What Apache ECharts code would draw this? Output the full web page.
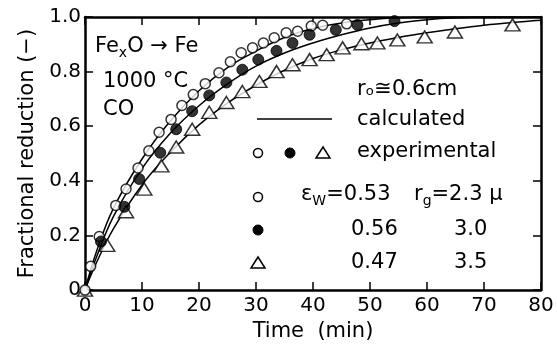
<!DOCTYPE html>
<html><head><meta charset="utf-8">
<script src="https://cdn.jsdelivr.net/npm/echarts@6/dist/echarts.min.js"></script>
<style>html,body{margin:0;padding:0;background:#fff}#c{width:557px;height:347px}</style>
</head><body><div id="c"></div>
<script>
// x tick labels and y tick labels
var xTicks = [0,10,20,30,40,50,60,70,80];
var yTickLabels = {0:'0',0.2:'0.2',0.4:'0.4',0.6:'0.6',0.8:'0.8',1:'1.0'};

// experimental: open circles (eps=0.53)
var openT = [0,1,2.5,5.4,7.2,9.3,11.2,13,15.1,17,19,21.1,23.5,25.5,27.4,29.4,31.3,33.2,35.3,37.3,39.7,41.7,45.9];
var openY = [0,0.087,0.196,0.31,0.37,0.447,0.51,0.578,0.625,0.676,0.716,0.756,0.796,0.836,0.869,0.887,0.905,0.924,0.942,0.948,0.967,0.97,0.975];
// filled circles (eps=0.56)
var fillT = [2.8,6.9,9.5,13.2,16,18.8,21.8,24.8,27.6,30.4,33.6,36.4,39.4,44,47.8,54.3];
var fillY = [0.178,0.305,0.407,0.503,0.589,0.655,0.713,0.76,0.807,0.844,0.876,0.905,0.935,0.953,0.971,0.985];
// triangles (eps=0.47)
var triT = [0,3.9,7.2,10.4,13.4,16,18.8,21.8,24.8,27.6,30.6,33.6,36.4,39.4,42.4,45.2,48.5,51.3,54.8,59.6,64.9,75];
var triY = [0,0.164,0.287,0.37,0.455,0.524,0.589,0.651,0.687,0.727,0.764,0.8,0.825,0.844,0.862,0.887,0.902,0.905,0.916,0.927,0.945,0.971];

// calculated curves
var curveT = [0,2,5,10,15,20,25,30,35,40,45,50,55,60,65,70,75,80];
var calcA = [0,0.14,0.30,0.48,0.62,0.73,0.815,0.875,0.925,0.958,0.978,0.99,0.997,1.0,1.0,1.0,1.0,1.0];
var calcB = [0,0.12,0.27,0.445,0.575,0.675,0.755,0.82,0.868,0.905,0.935,0.96,0.978,0.99,0.997,1.0,1.0,1.0];
var calcC = [0,0.10,0.225,0.385,0.505,0.605,0.685,0.75,0.805,0.848,0.88,0.905,0.925,0.942,0.957,0.97,0.98,0.988];

function pairs(t, y){ return t.map(function(v,i){return [v,y[i]];}); }

var FONT = 'DejaVu Sans';
var FS = 21;
var chart = echarts.init(document.getElementById('c'), null, {renderer:'canvas'});
var lineStyle = {color:'#000', width:1.5};
function lineSeries(y){ return {type:'line', data:pairs(curveT,y), smooth:0.4, symbol:'none', lineStyle:lineStyle, z:2, xAxisIndex:0, yAxisIndex:0}; }
function T(x, y, text, extra){
  var st = {text:text, fontFamily:FONT, fontSize:FS, fill:'#000', align:'left', verticalAlign:'middle'};
  if (extra) for (var k in extra) st[k] = extra[k];
  return {type:'text', x:x, y:y, z:10, style:st};
}
var subRich = {a:{fontFamily:FONT, fontSize:FS, color:'#000'}, s:{fontFamily:FONT, fontSize:14, color:'#000', padding:[12,0,0,0]}};

chart.setOption({
  animation:false,
  backgroundColor:'#fff',
  grid:{left:85, right:16, top:17, bottom:55, show:false},
  xAxis:[{
    type:'value', min:0, max:80, interval:10,
    name:'Time  (min)', nameLocation:'middle', nameGap:28,
    nameTextStyle:{fontFamily:FONT, fontSize:21, color:'#000'},
    axisLine:{show:true, onZero:false, lineStyle:{color:'#000', width:2.5}},
    axisTick:{show:true, inside:true, length:8, lineStyle:{color:'#000', width:1.5}},
    axisLabel:{fontFamily:FONT, fontSize:20, color:'#000', margin:6},
    splitLine:{show:false}
  },{
    type:'value', min:0, max:80, interval:10, position:'top',
    axisLine:{show:true, onZero:false, lineStyle:{color:'#000', width:2.5}},
    axisTick:{show:true, inside:true, length:8, lineStyle:{color:'#000', width:1.5}},
    axisLabel:{show:false}, splitLine:{show:false}
  }],
  yAxis:[{
    type:'value', min:0, max:1, interval:0.2,
    name:'Fractional reduction (−)', nameLocation:'middle', nameGap:44,
    nameTextStyle:{fontFamily:FONT, fontSize:21, color:'#000'},
    axisLine:{show:true, onZero:false, lineStyle:{color:'#000', width:2.5}},
    axisTick:{show:true, inside:true, length:8, lineStyle:{color:'#000', width:1.5}},
    axisLabel:{fontFamily:FONT, fontSize:20, color:'#000', margin:4,
      formatter:function(v){ var k=Math.round(v*10)/10; return yTickLabels[k]!==undefined?yTickLabels[k]:''; }},
    splitLine:{show:false}
  },{
    type:'value', min:0, max:1, interval:0.2, position:'right',
    axisLine:{show:true, onZero:false, lineStyle:{color:'#000', width:2.5}},
    axisTick:{show:true, inside:true, length:8, lineStyle:{color:'#000', width:1.5}},
    axisLabel:{show:false}, splitLine:{show:false}
  }],
  series:[
    lineSeries(calcA), lineSeries(calcB), lineSeries(calcC),
    {type:'scatter', data:pairs(openT,openY), symbol:'circle', symbolSize:10, z:5,
      itemStyle:{color:'#fff', borderColor:'#000', borderWidth:1.5}},
    {type:'scatter', data:pairs(fillT,fillY), symbol:'circle', symbolSize:11, z:5,
      itemStyle:{color:'#000', borderColor:'#000', borderWidth:1}},
    {type:'scatter', data:pairs(triT,triY), symbol:'triangle', symbolSize:[15,12], z:4,
      itemStyle:{color:'#fff', borderColor:'#000', borderWidth:1.5}}
  ],
  graphic:[
    T(95, 47, '{a|Fe}{s|x}{a|O → Fe}', {rich:subRich}),
    T(103, 82, '1000 °C'),
    T(103, 110, 'CO'),
    T(357, 90, 'r\u2092\u22450.6cm'),
    {type:'line', z:10, shape:{x1:257, y1:119, x2:332, y2:119}, style:{stroke:'#000', lineWidth:1.5}},
    T(357, 120, 'calculated'),
    {type:'circle', z:10, shape:{cx:258, cy:153, r:4.5}, style:{fill:'#fff', stroke:'#000', lineWidth:1.5}},
    {type:'circle', z:10, shape:{cx:290, cy:153, r:5}, style:{fill:'#000', stroke:'#000', lineWidth:1}},
    {type:'polygon', z:10, shape:{points:[[323,147],[330,158],[316,158]]}, style:{fill:'#fff', stroke:'#000', lineWidth:1.5}},
    T(357, 152, 'experimental'),
    {type:'circle', z:10, shape:{cx:258, cy:197, r:4.5}, style:{fill:'#fff', stroke:'#000', lineWidth:1.5}},
    T(301, 195, '{a|ε}{s|W}{a|=0.53}', {rich:subRich}),
    T(414, 195, '{a|r}{s|g}{a|=2.3 μ}', {rich:subRich}),
    {type:'circle', z:10, shape:{cx:258, cy:230, r:5}, style:{fill:'#000', stroke:'#000', lineWidth:1}},
    T(351, 230, '0.56'),
    T(454, 230, '3.0'),
    {type:'polygon', z:10, shape:{points:[[258,257],[265,268],[251,268]]}, style:{fill:'#fff', stroke:'#000', lineWidth:1.5}},
    T(351, 263, '0.47'),
    T(454, 263, '3.5')
  ]
});
</script></body></html>
